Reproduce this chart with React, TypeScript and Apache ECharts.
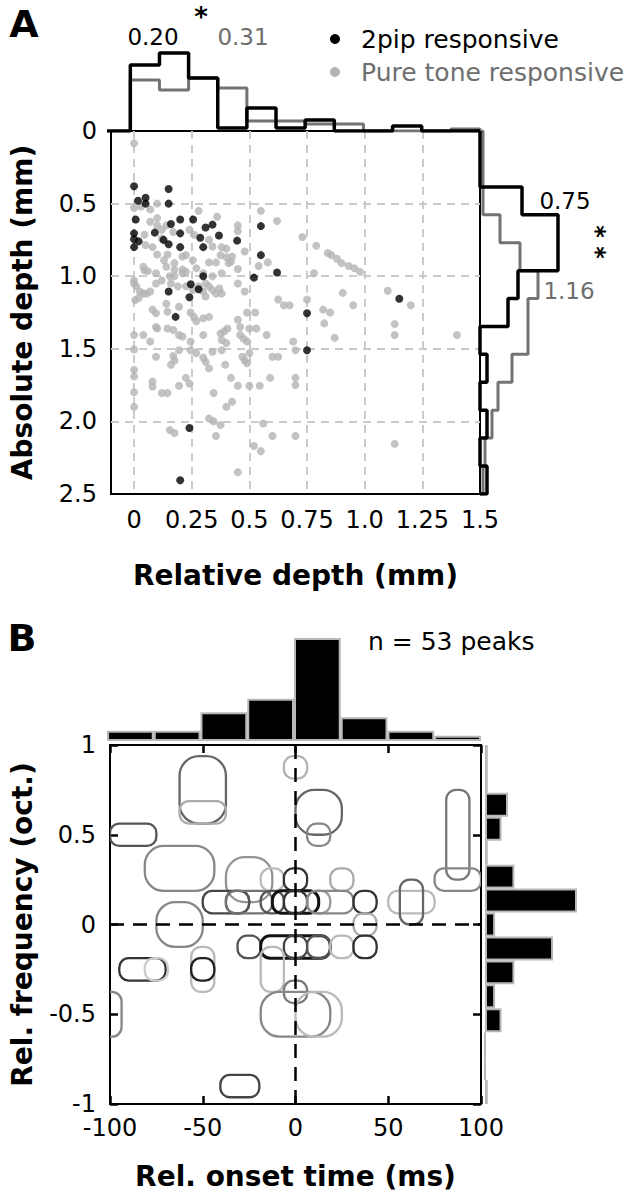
import React, { useEffect, useRef } from 'react';
import * as echarts from 'echarts';

const FONT = 'DejaVu Sans';

// ---------- Panel A data ----------
const twoPipResponsive: [number, number][] = [
  [0, 0.38], [0.15, 0.4], [0.017, 0.48], [0.05, 0.46], [0.05, 0.5], [0.15, 0.5], [0.007, 0.61],
  [0.16, 0.64], [0.2, 0.61], [0.256, 0.61], [0.34, 0.645], [0.31, 0.665], [0.09, 0.7], [0.2, 0.705],
  [0, 0.705], [0, 0.745], [0.02, 0.76], [0, 0.8], [0.128, 0.75], [0.15, 0.78], [0.2, 0.8],
  [0.287, 0.735], [0.3, 0.8], [0.368, 0.72], [0.447, 0.755], [0.55, 0.655], [0.55, 0.855],
  [0.62, 0.975], [0.52, 1.01], [0.3, 1.0], [0.246, 1.055], [0.28, 1.09], [0.15, 1.105],
  [0.24, 1.145], [0.18, 1.28], [0.75, 1.255], [1.15, 1.155], [0.75, 1.51], [0.24, 2.045], [0.2, 2.405],
];

const pureToneResponsive: [number, number][] = [
  [0, 0.085], [0, 0.53], [0.07, 0.54], [0.1, 0.5], [0.28, 0.55], [0.36, 0.59], [0.55, 0.55],
  [0.62, 0.62], [0.45, 0.65], [0.45, 0.69], [0.1, 0.6], [0.1, 0.65], [0.14, 0.65], [0.73, 0.73],
  [0.79, 0.79], [0.84, 0.84], [0.855, 0.855], [0.88, 0.88], [0.9, 0.91], [0.93, 0.93], [0.955, 0.945],
  [0.98, 0.97], [0.05, 0.785], [0.08, 0.8], [0.1, 0.85], [0.145, 0.85], [0.21, 0.865], [0.325, 0.75],
  [0.38, 0.8], [0.4, 0.81], [0.375, 0.855], [0.4, 0.87], [0.42, 0.9], [0.41, 0.91], [0.48, 0.83],
  [0.45, 0.95], [0.325, 0.905], [0.355, 0.905], [0.54, 0.93], [0.58, 0.905], [0.045, 0.96],
  [0.06, 0.965], [0.095, 0.98], [0.14, 0.935], [0.175, 0.955], [0.21, 0.955], [0.225, 0.97],
  [0.175, 1.0], [0.21, 0.98], [0.155, 1.0], [0, 1.03], [0, 1.05], [0.01, 1.07], [0.025, 1.105],
  [0.04, 1.12], [0.055, 1.12], [0.005, 1.165], [0.02, 1.15], [0.07, 1.105], [0.095, 1.05],
  [0.12, 1.03], [0.16, 1.05], [0.19, 1.07], [0.225, 1.07], [0.255, 1.095], [0.28, 1.07], [0.31, 1.05],
  [0.325, 1.07], [0.34, 1.095], [0.355, 1.12], [0.37, 1.085], [0.38, 1.12], [0.45, 1.05], [0.48, 1.105],
  [0.3, 1.105], [0.31, 1.14], [0.78, 0.98], [0.905, 1.115], [0.75, 1.16], [0.625, 1.16], [0.65, 1.2],
  [0.675, 1.2], [0.95, 1.2], [1.1, 1.1], [1.2, 1.2], [0.08, 1.23], [0.095, 1.255], [0.14, 1.19],
  [0.145, 1.245], [0.195, 1.21], [0.245, 1.25], [0.26, 1.28], [0.27, 1.31], [0.3, 1.29], [0.325, 1.28],
  [0.49, 1.25], [0.525, 1.25], [0.82, 1.23], [0.85, 1.25], [0.825, 1.325], [0.87, 1.425], [1.13, 1.33],
  [1.13, 1.405], [1.4, 1.405], [0.45, 1.3], [0.46, 1.35], [0.5, 1.36], [0.53, 1.36], [0.575, 1.405],
  [0.095, 1.35], [0.1, 1.36], [0.145, 1.36], [0.17, 1.37], [0.195, 1.405], [0.21, 1.415], [0.245, 1.45],
  [0.3, 1.405], [0.375, 1.395], [0.39, 1.38], [0.405, 1.36], [0.38, 1.44], [0.4, 1.46], [0.46, 1.405],
  [0.475, 1.43], [0.49, 1.45], [0, 1.405], [0.04, 1.405], [0.07, 1.45], [0, 1.505], [0.095, 1.555],
  [0.17, 1.55], [0.175, 1.58], [0.16, 1.61], [0.195, 1.51], [0.245, 1.51], [0.27, 1.53], [0.3, 1.56],
  [0.31, 1.59], [0.325, 1.635], [0.34, 1.52], [0.38, 1.51], [0.47, 1.555], [0.48, 1.58], [0.5, 1.53],
  [0.49, 1.6], [0.6, 1.555], [0.625, 1.555], [0.69, 1.45], [0.7, 1.51], [0, 1.645], [0, 1.69],
  [0.08, 1.725], [0.08, 1.76], [0.12, 1.805], [0.145, 1.805], [0.195, 1.755], [0.225, 1.7], [0.24, 1.74],
  [0.345, 1.805], [0.395, 1.61], [0.42, 1.7], [0.45, 1.755], [0.5, 1.755], [0.545, 1.755], [0.59, 1.7],
  [0.7, 1.7], [0.7, 1.75], [0, 1.8], [0, 1.9], [0.4, 1.9], [0.425, 1.865], [0.325, 1.98], [0.345, 2.0],
  [0.375, 2.025], [0.56, 2.015], [0.155, 2.06], [0.175, 2.08], [0.355, 2.1], [0.6, 2.1], [0.7, 2.1],
  [1.13, 2.155], [0.52, 2.17], [0.55, 2.205], [0.45, 2.35],
  [0.03, 0.52], [0.07, 0.625], [0.12, 0.68], [0.12, 0.74], [0.045, 0.715], [0.17, 0.695], [0.24, 0.68],
  [0.26, 0.715], [0.34, 0.795], [0.425, 0.865], [0.225, 0.855], [0.255, 0.89], [0.13, 0.89],
  [0.175, 0.91], [0.27, 0.945], [0.3, 0.98], [0.34, 1.0], [0.38, 0.98], [0.04, 0.935],
];

const relDepthTicks = [0, 0.25, 0.5, 0.75, 1.0, 1.25, 1.5];
const relDepthTickLabels = ['0', '0.25', '0.5', '0.75', '1.0', '1.25', '1.5'];
const absDepthGridValues = [0.5, 1.0, 1.5, 2.0];

// relative-depth histogram (top of A)
const relBinEdges = [0, 0.125, 0.25, 0.375, 0.5, 0.625, 0.75, 0.875, 1.0, 1.125, 1.25, 1.375, 1.5];
const relHist2pip = [0.264, 0.312, 0.212, 0.012, 0.092, 0.012, 0.044, 0, 0, 0.02, 0, 0];
const relHistTone = [0.204, 0.164, 0.212, 0.172, 0.04, 0.04, 0.028, 0.028, 0, 0, 0, 0.008];

// absolute-depth histogram (right of A)
const absBinEdges = [0, 0.192, 0.385, 0.577, 0.769, 0.962, 1.154, 1.346, 1.538, 1.731, 1.923, 2.115, 2.308, 2.5];
const absHist2pip = [0, 0, 0.168, 0.312, 0.312, 0.152, 0.112, 0, 0.028, 0, 0.028, 0, 0.028];
const absHistTone = [0.012, 0.012, 0.012, 0.08, 0.16, 0.232, 0.192, 0.192, 0.128, 0.072, 0.048, 0.02, 0.012];

// ---------- Panel B data ----------
const peakOnset = [-50, -50, 0, 12.5, 12.5, -87.5, -62.5, -25, -12.5, 0, 25, 87.5, 87.5,
  -37.5, -31.25, -25, -12.5, 0, 0, 12.5, 18.75, 37.5, 62.5, 62.5,
  -62.5, 37.5,
  -25, 0, 0, 12.5, 25, 37.5,
  -12.5, -82.5, -75, -50, -50, 0, 0, 12.5, -100, -30];
const peakFreq = [0.75, 0.625, 0.875, 0.625, 0.5, 0.5, 0.3125, 0.25, 0.25, 0.25, 0.25, 0.5, 0.25,
  0.125, 0.125, 0.125, 0.125, 0.125, 0.125, 0.125, 0.125, 0.125, 0.125, 0.125,
  0, 0,
  -0.125, -0.125, -0.125, -0.125, -0.125, -0.125,
  -0.25, -0.25, -0.25, -0.25, -0.25, -0.375, -0.5, -0.5, -0.5, -0.9];
const peakOnsetSpread = [12.5, 12.5, 6.25, 12.5, 6.25, 12.5, 18.75, 12.5, 6.25, 6.25, 6.25, 6.25, 12.5,
  12.5, 6.25, 12.5, 6.25, 12.5, 6.25, 6.25, 12.5, 6.25, 12.5, 6.25,
  12.5, 6.25,
  6.25, 18.75, 6.25, 6.25, 6.25, 6.25,
  6.25, 12.5, 6.25, 6.25, 6.25, 6.25, 18.75, 12.5, 6.25, 10.5];
const peakFreqSpread = [0.1875, 0.0625, 0.0625, 0.125, 0.0625, 0.0625, 0.125, 0.125, 0.0625, 0.0625, 0.0625, 0.25, 0.0625,
  0.0625, 0.0625, 0.0625, 0.0625, 0.0625, 0.0625, 0.0625, 0.0625, 0.0625, 0.0625, 0.125,
  0.125, 0.0625,
  0.0625, 0.0625, 0.0625, 0.0625, 0.0625, 0.0625,
  0.125, 0.0625, 0.0625, 0.125, 0.0625, 0.0625, 0.125, 0.125, 0.125, 0.0625];
const peakStrength = [0.6, 0.33, 0.3, 0.6, 0.47, 0.67, 0.47, 0.42, 0.27, 0.8, 0.33, 0.53, 0.47,
  0.73, 0.67, 0.55, 0.67, 0.93, 0.8, 0.4, 0.47, 0.8, 0.27, 0.6,
  0.47, 0.33,
  0.67, 0.93, 0.73, 0.67, 0.27, 0.8,
  0.27, 0.8, 0.2, 0.27, 0.87, 0.53, 0.47, 0.27, 0.47, 0.73];

const onsetBins = ['-87.5', '-62.5', '-37.5', '-12.5', '12.5', '37.5', '62.5', '87.5'];
const onsetHist = [0.1, 0.1, 0.28, 0.41, 1.0, 0.23, 0.1, 0.05];
const freqBins = ['0.93', '0.80', '0.67', '0.53', '0.40', '0.27', '0.13', '0', '-0.13', '-0.27', '-0.40', '-0.53', '-0.67', '-0.80', '-0.93'];
const freqHist = [0.03, 0.03, 0.25, 0.18, 0.03, 0.32, 1.0, 0.11, 0.74, 0.32, 0.11, 0.18, 0, 0, 0.03];

function topOutline(edges: number[], vals: number[], start: number) {
  const pts: number[][] = [[start, 0], [edges[0], 0]];
  vals.forEach((v, i) => { pts.push([edges[i], v]); pts.push([edges[i + 1], v]); });
  pts.push([edges[edges.length - 1], 0]);
  return pts;
}
function sideOutline(edges: number[], vals: number[]) {
  const pts: number[][] = [[0, edges[0]]];
  vals.forEach((v, i) => { pts.push([v, edges[i]]); pts.push([v, edges[i + 1]]); });
  pts.push([0, edges[edges.length - 1]]);
  return pts;
}

export default function App() {
  const ref = useRef<HTMLDivElement>(null);
  useEffect(() => {
    document.body.style.margin = '0';
    if (!ref.current) return;
    const chart = echarts.init(ref.current, undefined, { renderer: 'svg' });
    const labelStyle = { fontFamily: FONT, fontSize: 24, color: '#000' };
    const nameStyle = { fontFamily: FONT, fontSize: 28, fontWeight: 'bold' as const, color: '#000' };
    const hiddenLine = { show: false, onZero: false };
    const boxLine = { show: true, onZero: false, lineStyle: { color: '#000', width: 2 } };
    const inTick = { show: true, inside: true, length: 8, lineStyle: { color: '#000', width: 2.5 } };
    const peaks = peakOnset.map((t, i) => [t, peakFreq[i], peakOnsetSpread[i], peakFreqSpread[i], peakStrength[i]]);

    const txt = (text: string, x: number, y: number, size: number, fill: string, extra: any = {}) => ({
      type: 'text', x, y, rotation: extra.rotation || 0,
      style: {
        text, font: `${extra.bold ? 'bold ' : ''}${size}px "${FONT}"`, fill,
        align: extra.align || 'center', textAlign: extra.align || 'center',
        verticalAlign: 'middle', textVerticalAlign: 'middle',
      },
    });

    const option: any = {
      animation: false,
      textStyle: { fontFamily: FONT },
      grid: [
        { left: 107, top: 131, width: 373, height: 363, show: true, borderColor: '#000', borderWidth: 2, backgroundColor: 'transparent' },
        { left: 107, top: 31, width: 373, height: 100 },
        { left: 480, top: 131, width: 120, height: 363 },
        { left: 107, top: 745, width: 374, height: 359, show: true, borderColor: '#000', borderWidth: 2, backgroundColor: 'transparent' },
        { left: 107, top: 621, width: 374, height: 120 },
        { left: 485, top: 745, width: 100, height: 359 },
      ],
      xAxis: [
        {
          gridIndex: 0, type: 'value', min: -0.1, max: 1.5,
          axisLine: hiddenLine, axisTick: { show: false }, splitLine: { show: false },
          axisLabel: { ...labelStyle, margin: 14, customValues: relDepthTicks, formatter: (v: number) => relDepthTickLabels[relDepthTicks.indexOf(v)] ?? String(v) },
          name: 'Relative depth (mm)', nameLocation: 'middle', nameGap: 67, nameTextStyle: nameStyle,
        },
        { gridIndex: 1, type: 'value', min: -0.1, max: 1.5, show: false },
        { gridIndex: 2, type: 'value', min: 0, max: 0.48, show: false },
        {
          gridIndex: 3, type: 'value', min: -100, max: 100, interval: 50,
          axisLine: boxLine, splitLine: { show: false }, axisTick: inTick,
          axisLabel: { ...labelStyle, margin: 12 },
          name: 'Rel. onset time (ms)', nameLocation: 'middle', nameGap: 58, nameTextStyle: nameStyle,
        },
        {
          gridIndex: 3, type: 'value', position: 'top', min: -100, max: 100, interval: 50,
          axisLine: boxLine, splitLine: { show: false }, axisLabel: { show: false }, axisTick: inTick,
        },
        { gridIndex: 4, type: 'category', data: onsetBins, show: false },
        { gridIndex: 5, type: 'value', min: 0, max: 1.087, show: false },
      ],
      yAxis: [
        {
          gridIndex: 0, type: 'value', min: 0, max: 2.5, interval: 0.5, inverse: true,
          axisLine: hiddenLine, axisTick: { show: false }, splitLine: { show: false },
          axisLabel: { ...labelStyle, margin: 14, formatter: (v: number) => (v === 0 ? '0' : v.toFixed(1)) },
          name: 'Absolute depth (mm)', nameLocation: 'middle', nameGap: 75, nameTextStyle: nameStyle,
        },
        { gridIndex: 1, type: 'value', min: 0, max: 0.4, show: false },
        { gridIndex: 2, type: 'value', min: 0, max: 2.5, inverse: true, show: false },
        {
          gridIndex: 3, type: 'value', min: -1, max: 1, interval: 0.5,
          axisLine: boxLine, splitLine: { show: false }, axisTick: inTick,
          axisLabel: { ...labelStyle, margin: 14 },
          name: 'Rel. frequency (oct.)', nameLocation: 'middle', nameGap: 74, nameTextStyle: nameStyle,
        },
        {
          gridIndex: 3, type: 'value', position: 'right', min: -1, max: 1, interval: 0.5,
          axisLine: boxLine, splitLine: { show: false }, axisLabel: { show: false }, axisTick: inTick,
        },
        { gridIndex: 4, type: 'value', min: 0, max: 1.165, show: false },
        { gridIndex: 5, type: 'category', data: freqBins, inverse: true, show: false },
      ],
      series: [
        {
          name: 'Pure tone responsive', type: 'scatter', xAxisIndex: 0, yAxisIndex: 0, z: 2,
          data: pureToneResponsive, symbolSize: 8, itemStyle: { color: '#b4b4b4' },
          markLine: {
            silent: true, symbol: ['none', 'none'], z: 1, label: { show: false },
            lineStyle: { color: '#cbcbcb', width: 2, type: [8, 6] },
            data: [
              ...relDepthTicks.filter((v) => v < 1.5).map((v) => ({ xAxis: v })),
              ...absDepthGridValues.map((v) => ({ yAxis: v })),
            ],
          },
        },
        {
          name: '2pip responsive', type: 'scatter', xAxisIndex: 0, yAxisIndex: 0, z: 3,
          data: twoPipResponsive, symbolSize: 8, itemStyle: { color: '#000' },
        },
        {
          type: 'line', xAxisIndex: 1, yAxisIndex: 1, data: topOutline(relBinEdges, relHistTone, 0),
          showSymbol: false, symbol: 'none', lineStyle: { color: '#737373', width: 3 }, z: 3,
        },
        {
          type: 'line', xAxisIndex: 1, yAxisIndex: 1, data: topOutline(relBinEdges, relHist2pip, -0.1),
          showSymbol: false, symbol: 'none', lineStyle: { color: '#000', width: 3.5 }, z: 4,
        },
        {
          type: 'line', xAxisIndex: 2, yAxisIndex: 2, data: sideOutline(absBinEdges, absHistTone),
          showSymbol: false, symbol: 'none', lineStyle: { color: '#737373', width: 3 }, z: 3,
        },
        {
          type: 'line', xAxisIndex: 2, yAxisIndex: 2, data: sideOutline(absBinEdges, absHist2pip),
          showSymbol: false, symbol: 'none', lineStyle: { color: '#000', width: 3.5 }, z: 4,
        },
        {
          type: 'custom', xAxisIndex: 3, yAxisIndex: 3, clip: true, data: peaks,
          renderItem: (params: any, api: any) => {
            const t = api.value(0), f = api.value(1), hw = api.value(2), hh = api.value(3), w = api.value(4);
            const p0 = api.coord([t - hw, f + hh]);
            const p1 = api.coord([t + hw, f - hh]);
            const width = p1[0] - p0[0];
            const height = p1[1] - p0[1];
            const g = Math.round(255 * (1 - w));
            return {
              type: 'rect',
              shape: { x: p0[0], y: p0[1], width, height, r: Math.min(width, height) * 0.42 },
              style: { fill: 'none', stroke: `rgb(${g},${g},${g})`, lineWidth: w > 0.9 ? 3 : 2.3 },
            };
          },
          markLine: {
            silent: true, symbol: ['none', 'none'], label: { show: false },
            lineStyle: { color: '#000', width: 2.5, type: [14, 9] },
            data: [{ xAxis: 0 }, { yAxis: 0 }],
          },
        },
        {
          type: 'bar', xAxisIndex: 5, yAxisIndex: 5, data: onsetHist, barCategoryGap: '0%',
          itemStyle: { color: '#000', borderColor: '#b8b8b8', borderWidth: 2 },
        },
        {
          type: 'bar', xAxisIndex: 6, yAxisIndex: 6, data: freqHist, barCategoryGap: '0%',
          itemStyle: { color: '#000', borderColor: '#b8b8b8', borderWidth: 2 },
        },
      ],
      graphic: [
        txt('A', 24, 24, 38, '#000', { bold: true }),
        txt('B', 22, 638, 38, '#000', { bold: true }),
        txt('0.20', 153, 37, 23, '#000'),
        txt('*', 201, 17, 26, '#000', { bold: true }),
        txt('0.31', 243, 37, 23, '#6e6e6e'),
        { type: 'circle', shape: { cx: 335, cy: 39, r: 5 }, style: { fill: '#000' } },
        { type: 'circle', shape: { cx: 335, cy: 72, r: 5 }, style: { fill: '#b4b4b4' } },
        txt('2pip responsive', 361, 39, 25, '#000', { align: 'left' }),
        txt('Pure tone responsive', 361, 72, 25, '#6e6e6e', { align: 'left' }),
        txt('0.75', 565, 201, 23, '#000'),
        txt('* *', 596, 242, 24, '#000', { bold: true, rotation: -Math.PI / 2 }),
        txt('1.16', 569, 291, 23, '#6e6e6e'),
        txt('n = 53 peaks', 368, 641, 25, '#000', { align: 'left' }),
      ],
    };
    chart.setOption(option);
    return () => chart.dispose();
  }, []);
  return <div ref={ref} style={{ width: 640, height: 1200 }} />;
}
